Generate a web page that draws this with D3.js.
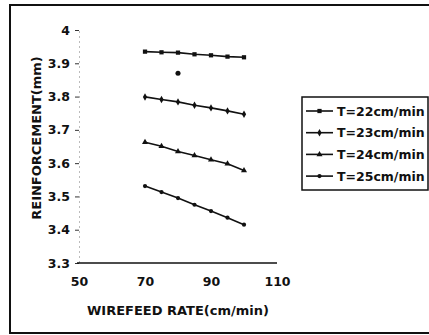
<!DOCTYPE html>
<html><head><meta charset="utf-8">
<script src="https://cdn.jsdelivr.net/npm/d3@7"></script>
<style>
html,body{margin:0;padding:0;background:#fff;}
svg text{font-family:"DejaVu Sans",sans-serif;font-weight:bold;fill:#111;}
</style></head>
<body><svg id="c" width="429" height="335"></svg>
<script>
const wirefeed = [70, 75, 80, 85, 90, 95, 100];
const seriesNames = ["T=22cm/min", "T=23cm/min", "T=24cm/min", "T=25cm/min"];
const t22 = [3.935, 3.933, 3.932, 3.927, 3.924, 3.920, 3.918];
const t23 = [3.799, 3.791, 3.784, 3.774, 3.766, 3.757, 3.747];
const t24 = [3.663, 3.651, 3.635, 3.623, 3.610, 3.598, 3.578];
const t25 = [3.531, 3.513, 3.495, 3.475, 3.456, 3.436, 3.415];
const strayPoint = [80, 3.870];
const xTicks = [50, 70, 90, 110];
const yTicks = [3.3, 3.4, 3.5, 3.6, 3.7, 3.8, 3.9, 4];
const markerShapes = [d3.symbolSquare, d3.symbolDiamond, d3.symbolTriangle, d3.symbolCircle];
const markerSizes = [18, 16, 16, 14];

const allSeries = [t22, t23, t24, t25];
const svg = d3.select("#c");

// outer frame
svg.append("path").attr("d", "M429,5 H10 V333 H429")
  .attr("fill", "none").attr("stroke", "#111").attr("stroke-width", 2);

const x = d3.scaleLinear().domain([50, 110]).range([79, 277]);
const y = d3.scaleLinear().domain([3.3, 4]).range([263, 30]);

// y axis
const yAxis = svg.append("g").attr("transform", "translate(79,0)")
  .call(d3.axisLeft(y).tickValues(yTicks).tickSize(4).tickPadding(5)
    .tickFormat(d => d === 4 ? "4" : d3.format(".1f")(d)));
yAxis.select(".domain").attr("stroke", "#bbb").attr("stroke-dasharray", "2,3");
yAxis.selectAll(".tick line").attr("stroke", "#333").attr("stroke-width", 1);
yAxis.selectAll(".tick text").attr("font-size", 12.5).attr("fill", "#111")
  .style("font-family", "DejaVu Sans").style("font-weight", "bold");

// x axis
const xAxis = svg.append("g").attr("transform", "translate(0,263)")
  .call(d3.axisBottom(x).tickValues(xTicks).tickSize(0).tickPadding(14).tickSizeOuter(0));
xAxis.select(".domain").attr("stroke", "#111").attr("stroke-width", 1.6)
  .attr("d", "M77,0H277");
xAxis.selectAll(".tick text").attr("font-size", 12.5).attr("fill", "#111")
  .style("font-family", "DejaVu Sans").style("font-weight", "bold");

// titles
svg.append("text").attr("x", 178).attr("y", 315).attr("text-anchor", "middle")
  .attr("font-size", 13).text("WIREFEED RATE(cm/min)");
svg.append("text").attr("transform", "translate(41,138) rotate(-90)")
  .attr("text-anchor", "middle").attr("font-size", 13).text("REINFORCEMENT(mm)");

// series
const line = d3.line().x((d, i) => x(wirefeed[i])).y(d => y(d));
allSeries.forEach((vals, si) => {
  svg.append("path").datum(vals).attr("d", line)
    .attr("fill", "none").attr("stroke", "#111").attr("stroke-width", 1.6);
  svg.selectAll(null).data(vals).enter().append("path")
    .attr("transform", (d, i) => `translate(${x(wirefeed[i])},${y(d)})`)
    .attr("d", d3.symbol().type(markerShapes[si]).size(markerSizes[si]))
    .attr("fill", "#111");
});
svg.append("path")
  .attr("transform", `translate(${x(strayPoint[0])},${y(strayPoint[1])})`)
  .attr("d", d3.symbol().type(d3.symbolCircle).size(20)).attr("fill", "#111");

// legend
const lg = svg.append("g");
lg.append("rect").attr("x", 302).attr("y", 97).attr("width", 126).attr("height", 93)
  .attr("fill", "#fff").attr("stroke", "#111").attr("stroke-width", 1.5);
seriesNames.forEach((name, i) => {
  const cy = 111 + i * 21.7;
  lg.append("line").attr("x1", 306).attr("x2", 333).attr("y1", cy).attr("y2", cy)
    .attr("stroke", "#111").attr("stroke-width", 1.6);
  lg.append("path").attr("transform", `translate(319.5,${cy})`)
    .attr("d", d3.symbol().type(markerShapes[i]).size(markerSizes[i])).attr("fill", "#111");
  lg.append("text").attr("x", 337).attr("y", cy + 4.5).attr("font-size", 12.5).text(name);
});
</script></body></html>
